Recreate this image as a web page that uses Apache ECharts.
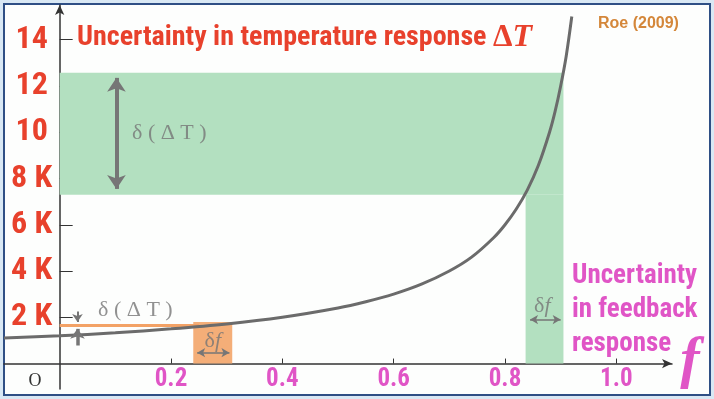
<!DOCTYPE html>
<html>
<head>
<meta charset="utf-8">
<script src="https://cdn.jsdelivr.net/npm/echarts@6/dist/echarts.min.js"></script>
<style>
html, body { margin: 0; padding: 0; background: #d9e8f4; }
#frame { position: absolute; left: 3px; top: 3px; width: 704px; height: 389px; border: 2px solid #2f4f85; background: #fdfefd; }
#chart { position: absolute; left: 0; top: 0; width: 714px; height: 399px; }
</style>
</head>
<body>
<div id="frame"></div>
<div id="chart"></div>
<script>
// feedback factor f and warming dT (K)
var feedback = [-0.1, 0, 0.1, 0.2, 0.3, 0.4, 0.5, 0.55, 0.6, 0.65, 0.7, 0.74, 0.78, 0.8, 0.82, 0.84, 0.86, 0.88, 0.89, 0.9, 0.91, 0.92];
var warming  = [1.1, 1.2, 1.33, 1.5, 1.71, 2.0, 2.4, 2.67, 3.0, 3.43, 4.0, 4.6, 5.45, 6.0, 6.67, 7.5, 8.57, 10.0, 10.9, 12.0, 13.3, 15.0];

var xTicks = [0.2, 0.4, 0.6, 0.8, 1.0];
var yTicks = [2, 4, 6, 8, 10, 12, 14];

// uncertainty bands [f0, f1, dT0, dT1]
var highBand = [0, 0.905, 7.3, 12.57];
var highStrip = [0.837, 0.905, 0, 7.3];
var lowStrip = [0.24, 0.31, 0, 1.8];
var lowLine = [[0, 1.65], [0.25, 1.65]];

var narrow = "'Liberation Sans Narrow', 'Arial Narrow', 'Roboto Condensed', 'DejaVu Sans Condensed', sans-serif";
var serif = "'Liberation Serif', 'DejaVu Serif', serif";
var red = '#e8412c';
var pink = '#e055c6';
var grey = '#767676';

var curve = feedback.map(function (f, i) { return [f, warming[i]]; });

function band(b, color) {
    return [{ coord: [b[0], b[2]], itemStyle: { color: color } }, { coord: [b[1], b[3]] }];
}
function arrow(p0, p1, s0, s1, w, size) {
    return [
        { coord: p0, symbol: s0, symbolSize: size, lineStyle: { width: w, color: grey, type: 'solid' } },
        { coord: p1, symbol: s1, symbolSize: size }
    ];
}

var myChart = echarts.init(document.getElementById('chart'));
var option = {
    animation: false,
    // grid 0: full plot with axes crossing at the origin; grid 1: same scale, only carries the tick labels
    grid: [
        { left: 4, right: 42, top: 5, bottom: 10, containLabel: false, outerBoundsMode: 'none' },
        { left: 59.67, right: 42, top: 5, bottom: 35.4, containLabel: false, outerBoundsMode: 'none' }
    ],
    xAxis: [{
        type: 'value', min: -0.1, max: 1.1, gridIndex: 0,
        axisLine: { onZero: true, symbol: ['none', 'arrow'], symbolSize: [7, 10], lineStyle: { color: '#333', width: 1.5 } },
        axisTick: { show: true, inside: true, length: 5, customValues: xTicks, lineStyle: { color: '#333' } },
        axisLabel: { show: false },
        splitLine: { show: false }
    }, {
        type: 'value', min: 0, max: 1.1, gridIndex: 1,
        axisLine: { show: false }, axisTick: { show: false }, splitLine: { show: false },
        axisLabel: {
            customValues: xTicks, margin: 4,
            formatter: function (v) { return v.toFixed(1); },
            color: pink, fontSize: 25, fontWeight: 'bold', fontFamily: narrow
        }
    }],
    yAxis: [{
        type: 'value', min: -1.1, max: 15.5, gridIndex: 0,
        axisLine: { show: true, onZero: true, symbol: ['none', 'arrow'], symbolSize: [7, 10], lineStyle: { color: '#333', width: 1.5 } },
        axisTick: { show: true, inside: true, length: 13, customValues: yTicks, lineStyle: { color: '#333' } },
        axisLabel: { show: false },
        splitLine: { show: false }
    }, {
        type: 'value', min: 0, max: 15.5, gridIndex: 1,
        axisLine: { show: false }, axisTick: { show: false }, splitLine: { show: false },
        axisLabel: {
            customValues: yTicks, margin: 28, align: 'center',
            formatter: function (v) { return v <= 8 ? v + ' K' : String(v); },
            color: red, fontSize: 32, fontWeight: 'bold', fontFamily: narrow
        }
    }],
    series: [
        {
            name: 'response', type: 'line', data: curve, smooth: 0.3, showSymbol: false, z: 4,
            lineStyle: { color: '#6b6b6b', width: 3 },
            markArea: {
                silent: true,
                data: [band(highBand, '#b3e0c0'), band(highStrip, '#b3e0c0'), band(lowStrip, '#f4ae78')]
            }
        },
        {
            name: 'low', type: 'line', data: lowLine, showSymbol: false, z: 3,
            lineStyle: { color: '#f3a266', width: 3 },
            markLine: {
                silent: true, label: { show: false },
                data: [
                    arrow([0.102, 12.35], [0.102, 7.55], 'arrow', 'arrow', 4, [14, 14]),
                    arrow([0.032, 2.25], [0.032, 1.8], 'none', 'arrow', 2, [8, 8]),
                    arrow([0.032, 0.78], [0.032, 1.5], 'none', 'arrow', 3.5, [11, 10]),
                    arrow([0.845, 1.9], [0.9, 1.9], 'arrow', 'arrow', 1.5, [7, 8]),
                    arrow([0.247, 0.47], [0.305, 0.47], 'arrow', 'arrow', 1.5, [7, 8])
                ]
            }
        },
        {
            name: 'notes', type: 'scatter', symbolSize: 1, z: 5,
            itemStyle: { color: 'transparent' },
            label: {
                show: true, position: 'inside', color: grey, fontFamily: serif, fontSize: 22,
                formatter: function (p) { return p.data.text; },
                rich: { f: { fontFamily: serif, fontStyle: 'italic', fontSize: 22, color: grey } }
            },
            data: [
                { value: [0.197, 9.94], text: 'δ ( Δ T )' },
                { value: [0.136, 2.3], text: 'δ ( Δ T )' },
                { value: [0.867, 2.5], text: 'δ{f|f}' },
                { value: [0.275, 0.95], text: 'δ{f|f}' }
            ]
        }
    ],
    graphic: [
        {
            type: 'text', x: 77, y: 38,
            style: {
                text: 'Uncertainty in temperature response {d|Δ}{t|T}',
                font: 'bold 28px ' + narrow, fill: red, verticalAlign: 'middle',
                rich: {
                    d: { fontFamily: serif, fontSize: 31, fontWeight: 'bold', fill: red },
                    t: { fontFamily: serif, fontSize: 32, fontStyle: 'italic', fontWeight: 'bold', fill: red }
                }
            }
        },
        { type: 'text', x: 598, y: 24, style: { text: 'Roe (2009)', font: 'bold 16px Liberation Sans, Arial, sans-serif', fill: '#d4873a', verticalAlign: 'middle' } },
        { type: 'text', x: 572, y: 259, style: { text: 'Uncertainty\nin feedback\nresponse', font: 'bold 27px ' + narrow, lineHeight: 34, fill: pink, verticalAlign: 'top' } },
        { type: 'text', x: 690, y: 362, style: { text: 'f', font: 'italic bold 58px ' + serif, fill: pink, align: 'center', verticalAlign: 'middle' } },
        { type: 'text', x: 35, y: 381, style: { text: 'O', font: '18px ' + serif, fill: '#333', align: 'center', verticalAlign: 'middle' } }
    ]
};
myChart.setOption(option);
</script>
</body>
</html>
